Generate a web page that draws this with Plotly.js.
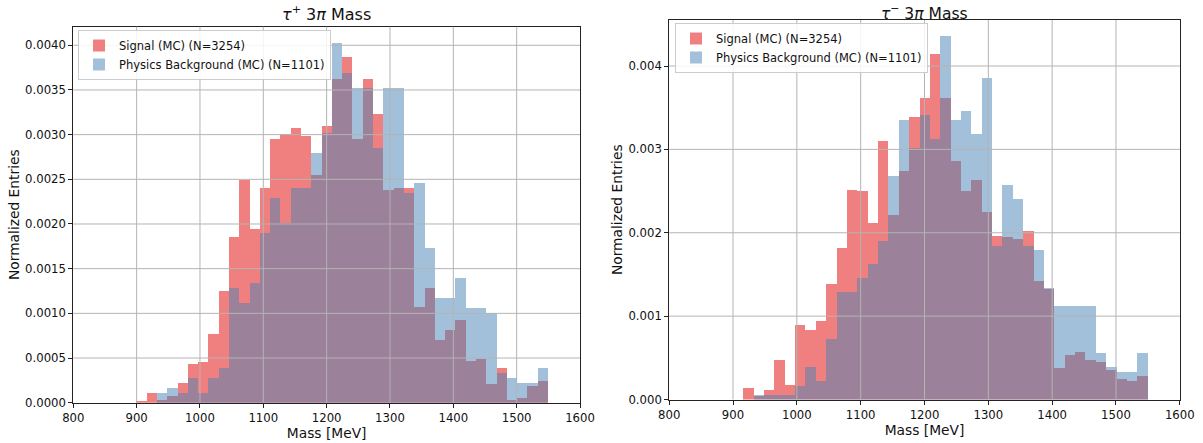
<!DOCTYPE html>
<html>
<head>
<meta charset="utf-8">
<script src="https://cdn.plot.ly/plotly-3.0.1.min.js"></script>
<style>
html,body{margin:0;padding:0;background:#fff;}
#chart{width:1203px;height:443px;}
</style>
</head>
<body>
<div id="chart"></div>
<script>
// ---- data (normalized entries per 16.25 MeV bin, 900–1550 MeV) ----
const binStart = 900;
const binWidth = 16.25;
const xTicks = [800, 900, 1000, 1100, 1200, 1300, 1400, 1500, 1600];
const yTicksLeft = [0, 0.0005, 0.001, 0.0015, 0.002, 0.0025, 0.003, 0.0035, 0.004];
const yTicksRight = [0, 0.001, 0.002, 0.003, 0.004];

const signalLabel = "Signal (MC) (N=3254)";
const backgroundLabel = "Physics Background (MC) (N=1101)";

const signalTauPlus = [
  0.0000189, 0.0001135, 0.0000378, 0.0000756, 0.0002269, 0.0004350, 0.0004539, 0.0007754,
  0.0012482, 0.0018533, 0.0024963, 0.0019479, 0.0024018, 0.0029502, 0.0030069, 0.0030826,
  0.0029880, 0.0025531, 0.0031015, 0.0036310, 0.0038769, 0.0029502, 0.0036310, 0.0032339,
  0.0023829, 0.0024018, 0.0024018, 0.0010780, 0.0012860, 0.0006997, 0.0008132, 0.0009267,
  0.0004728, 0.0004917, 0.0002080, 0.0003971, 0.0000378, 0.0000567, 0.0001891, 0.0002459
];
const backgroundTauPlus = [
  0, 0, 0.0001118, 0.0001677, 0.0001118, 0.0002795, 0.0001118, 0.0002795,
  0.0003913, 0.0012855, 0.0011179, 0.0013414, 0.0019004, 0.0022916, 0.0020122, 0.0024034,
  0.0024034, 0.0027947, 0.0030182, 0.0040243, 0.0036890, 0.0035213, 0.0035213, 0.0028506,
  0.0035213, 0.0035213, 0.0023475, 0.0024593, 0.0017327, 0.0011738, 0.0011738, 0.0013973,
  0.0010620, 0.0010620, 0.0010061, 0.0003354, 0.0002795, 0.0002236, 0.0002236, 0.0003913
];
const signalTauMinus = [
  0, 0.0001324, 0.0000378, 0.0001135, 0.0004728, 0.0001702, 0.0008888, 0.0008321,
  0.0009456, 0.0013805, 0.0018155, 0.0025153, 0.0024963, 0.0021181, 0.0031015, 0.0022127,
  0.0027422, 0.0033852, 0.0036121, 0.0041417, 0.0036121, 0.0028557, 0.0024963, 0.0026287,
  0.0022505, 0.0019668, 0.0019479, 0.0019290, 0.0020235, 0.0014184, 0.0013238, 0.0003782,
  0.0005295, 0.0005674, 0.0004728, 0.0004539, 0.0003593, 0.0002459, 0.0002269, 0.0002837
];
const backgroundTauMinus = [
  0, 0, 0.0000559, 0.0000559, 0.0000559, 0.0000559, 0.0001677, 0.0003913,
  0.0002236, 0.0007266, 0.0012855, 0.0012855, 0.0014532, 0.0016209, 0.0019004, 0.0026829,
  0.0033536, 0.0030182, 0.0034095, 0.0031300, 0.0043597, 0.0033536, 0.0034654, 0.0031859,
  0.0038566, 0.0018445, 0.0025711, 0.0024034, 0.0018445, 0.0017886, 0.0013414, 0.0011179,
  0.0011179, 0.0011179, 0.0011179, 0.0005589, 0.0003913, 0.0003354, 0.0003354, 0.0005589
];

// ---- styling ----
const RED = 'rgba(240,128,128,1)';
const BLUE = 'rgba(70,130,180,0.5)';
const FONT = 'DejaVu Sans, Verdana, sans-serif';
const W = 1203, H = 443;

const centers = signalTauPlus.map((_, i) => binStart + binWidth * (i + 0.5));

function bars(y, name, color, xa, ya, legend) {
  return {
    type: 'bar', x: centers, y: y, width: binWidth, name: name,
    xaxis: xa, yaxis: ya, legend: legend,
    marker: {color: color, line: {width: 0}},
    hoverinfo: 'x+y'
  };
}

const data = [
  bars(signalTauPlus, signalLabel, RED, 'x', 'y', 'legend'),
  bars(backgroundTauPlus, backgroundLabel, BLUE, 'x', 'y', 'legend'),
  bars(signalTauMinus, signalLabel, RED, 'x2', 'y2', 'legend2'),
  bars(backgroundTauMinus, backgroundLabel, BLUE, 'x2', 'y2', 'legend2')
];

// domains in pixels -> paper
const leftPx = {x0: 73.3, x1: 580, top: 26.7, bottom: 402.7};
const rightPx = {x0: 669.2, x1: 1179.8, top: 20, bottom: 399.5};
const dom = p => ({x: [p.x0 / W, p.x1 / W], y: [(H - p.bottom) / H, (H - p.top) / H]});
const dL = dom(leftPx), dR = dom(rightPx);

const xRange = [800, 1600];
const yRangeLeft = [0, 0.004208];
const yRangeRight = [0, 0.004552];

function xAxis(domain, anchor) {
  return {
    domain: domain, anchor: anchor, range: xRange,
    tickvals: xTicks, ticktext: xTicks.map(String),
    ticks: 'outside', ticklen: 4, tickwidth: 1, tickcolor: '#222',
    showline: true, mirror: true, linecolor: '#222', linewidth: 1,
    showgrid: false, zeroline: false,
    tickfont: {family: FONT, size: 11.7, color: '#111'},
    title: {text: 'Mass [MeV]', font: {family: FONT, size: 13.8, color: '#111'}, standoff: 0}
  };
}
function yAxis(domain, anchor, range, ticks, fmt) {
  return {
    domain: domain, anchor: anchor, range: range,
    tickvals: ticks, ticktext: ticks.map(v => v.toFixed(fmt)),
    ticks: 'outside', ticklen: 4, tickwidth: 1, tickcolor: '#222',
    showline: true, mirror: true, linecolor: '#222', linewidth: 1,
    showgrid: false, zeroline: false,
    tickfont: {family: FONT, size: 11.7, color: '#111'},
    title: {text: 'Normalized Entries', font: {family: FONT, size: 13.8, color: '#111'}, standoff: 2}
  };
}

// gridlines on top of the bars (as in the reference)
const shapes = [];
function grid(xref, yref, xr, yr, xt, yt) {
  xt.filter(v => v > xr[0] && v < xr[1]).forEach(v => shapes.push({
    type: 'line', xref: xref, yref: yref + ' domain', x0: v, x1: v, y0: 0, y1: 1,
    line: {color: '#b4b4b4', width: 1}, layer: 'above'
  }));
  yt.filter(v => v > yr[0] && v < yr[1]).forEach(v => shapes.push({
    type: 'line', xref: xref + ' domain', yref: yref, x0: 0, x1: 1, y0: v, y1: v,
    line: {color: '#b4b4b4', width: 1}, layer: 'above'
  }));
}
grid('x', 'y', xRange, yRangeLeft, xTicks, yTicksLeft);
grid('x2', 'y2', xRange, yRangeRight, xTicks, yTicksRight);

const legendStyle = (x, y) => ({
  x: x, y: y, xanchor: 'left', yanchor: 'top', xref: 'paper', yref: 'paper',
  bgcolor: 'rgba(255,255,255,0.85)', bordercolor: '#cccccc', borderwidth: 1,
  font: {family: FONT, size: 11.5, color: '#111'}, tracegroupgap: 0,
  itemwidth: 30, traceorder: 'normal'
});

const layout = {
  width: W, height: H,
  margin: {l: 0, r: 0, t: 0, b: 0},
  paper_bgcolor: '#fff', plot_bgcolor: '#fff',
  barmode: 'overlay', bargap: 0,
  showlegend: true,
  xaxis: xAxis(dL.x, 'y'),
  yaxis: yAxis(dL.y, 'x', yRangeLeft, yTicksLeft, 4),
  xaxis2: xAxis(dR.x, 'y2'),
  yaxis2: yAxis(dR.y, 'x2', yRangeRight, yTicksRight, 3),
  legend: legendStyle(78 / W, (H - 30) / H),
  legend2: legendStyle(675 / W, (H - 23) / H),
  shapes: shapes,
  annotations: [
    {text: '<i>τ</i><sup>+</sup> 3<i>π</i> Mass', xref: 'paper', yref: 'paper',
     x: (dL.x[0] + dL.x[1]) / 2, y: dL.y[1], xanchor: 'center', yanchor: 'bottom', yshift: 1,
     showarrow: false, font: {family: FONT, size: 16, color: '#111'}},
    {text: '<i>τ</i><sup>−</sup> 3<i>π</i> Mass', xref: 'paper', yref: 'paper',
     x: (dR.x[0] + dR.x[1]) / 2, y: 1, xanchor: 'center', yanchor: 'top', yshift: 0,
     showarrow: false, font: {family: FONT, size: 15.5, color: '#111'}}
  ]
};

Plotly.newPlot('chart', data, layout, {displayModeBar: false, responsive: false});
</script>
</body>
</html>
